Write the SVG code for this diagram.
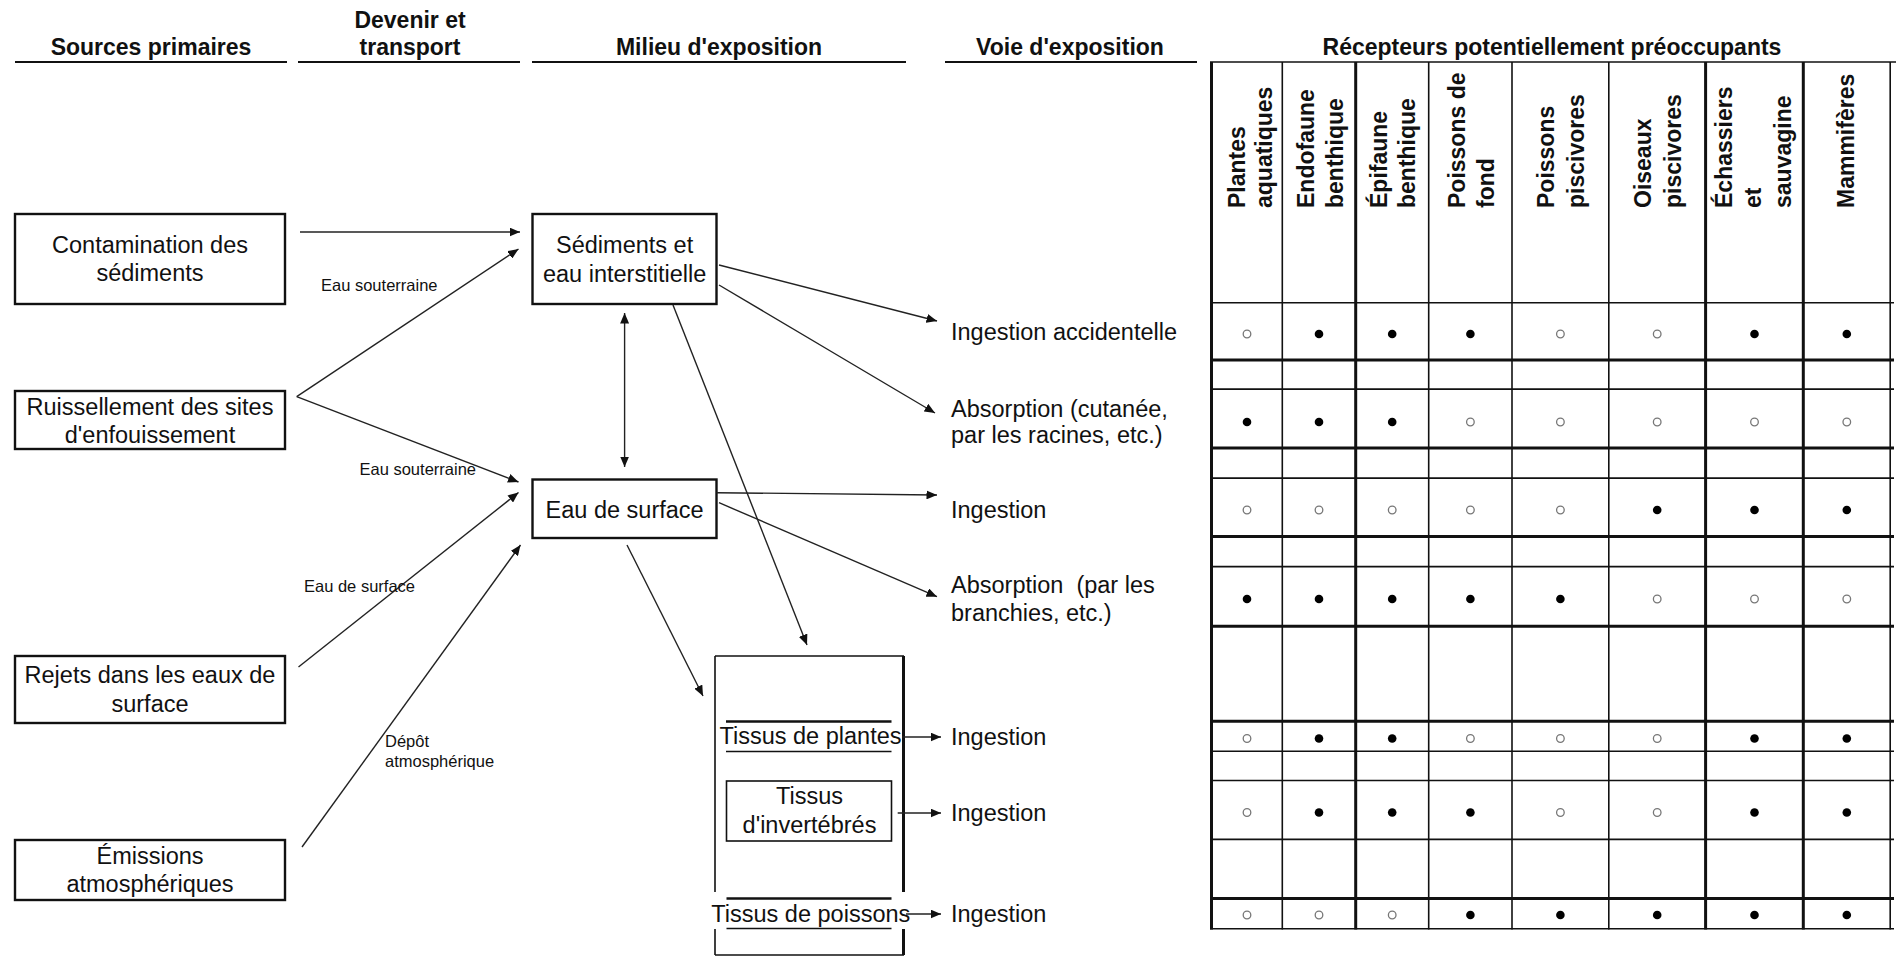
<svg xmlns="http://www.w3.org/2000/svg" width="1896" height="957" viewBox="0 0 1896 957">
<style>
text{font-family:"Liberation Sans",Arial,sans-serif;fill:#111}
.h{font-size:23px;font-weight:bold}
.b{font-size:23.5px}
.s{font-size:16.5px}
.ch{font-size:23px;font-weight:bold}
.box{fill:#fff;stroke:#111;stroke-width:2.4}
.ul{stroke:#111;stroke-width:2}
.con{stroke:#222;stroke-width:1.4;fill:none}
.arr{marker-end:url(#ah)}
.tl{stroke:#111;stroke-width:1.6}
.tk{stroke:#111;stroke-width:3}
.fd{fill:#000}
.hd{fill:none;stroke:#777;stroke-width:1.3}
</style>
<defs>
<marker id="ah" markerUnits="userSpaceOnUse" markerWidth="11" markerHeight="9" refX="10.5" refY="4.5" orient="auto-start-reverse">
<path d="M0,0 L10.5,4.5 L0,9 z" fill="#111"/>
</marker>
</defs>
<rect width="1896" height="957" fill="#fff"/>

<g id="headers">
<text class="h" x="151" y="55" text-anchor="middle">Sources primaires</text>
<text class="h" x="410" y="28" text-anchor="middle">Devenir et</text>
<text class="h" x="410" y="55" text-anchor="middle">transport</text>
<text class="h" x="719" y="55" text-anchor="middle">Milieu d'exposition</text>
<text class="h" x="1070" y="55" text-anchor="middle">Voie d'exposition</text>
<text class="h" x="1552" y="55" text-anchor="middle">Récepteurs potentiellement préoccupants</text>
<line class="ul" x1="15" y1="62" x2="287" y2="62"/>
<line class="ul" x1="298" y1="62" x2="520" y2="62"/>
<line class="ul" x1="532" y1="62" x2="906" y2="62"/>
<line class="ul" x1="945" y1="62" x2="1197" y2="62"/>
</g>

<g id="src-contamination">
<rect class="box" x="15" y="214" width="270" height="90"/>
<text class="b" x="150" y="253" text-anchor="middle">Contamination des</text>
<text class="b" x="150" y="281" text-anchor="middle">sédiments</text>
</g>
<g id="src-ruissellement">
<rect class="box" x="15" y="391" width="270" height="58"/>
<text class="b" x="150" y="415" text-anchor="middle">Ruissellement des sites</text>
<text class="b" x="150" y="443" text-anchor="middle">d'enfouissement</text>
</g>
<g id="src-rejets">
<rect class="box" x="15" y="656" width="270" height="67"/>
<text class="b" x="150" y="683" text-anchor="middle">Rejets dans les eaux de</text>
<text class="b" x="150" y="712" text-anchor="middle">surface</text>
</g>
<g id="src-emissions">
<rect class="box" x="15" y="840" width="270" height="60"/>
<text class="b" x="150" y="864" text-anchor="middle">Émissions</text>
<text class="b" x="150" y="892" text-anchor="middle">atmosphériques</text>
</g>

<g id="milieu-sediments">
<rect class="box" x="532.5" y="214" width="184" height="90"/>
<text class="b" x="624.6" y="253" text-anchor="middle">Sédiments et</text>
<text class="b" x="624.6" y="282" text-anchor="middle">eau interstitielle</text>
</g>
<g id="milieu-eau-surface">
<rect class="box" x="532.5" y="479.5" width="184" height="58.5"/>
<text class="b" x="624.6" y="518" text-anchor="middle">Eau de surface</text>
</g>

<g id="milieu-tissus">
<line stroke="#111" stroke-width="1.6" x1="715" y1="656" x2="904" y2="656"/>
<line stroke="#111" stroke-width="1.6" x1="715" y1="955" x2="904" y2="955"/>
<path d="M715,656 V892 M715,929 V955" stroke="#111" stroke-width="1.6" fill="none"/>
<path d="M903.5,656 V892 M903.5,929 V955" stroke="#111" stroke-width="3" fill="none"/>
<line stroke="#111" stroke-width="2.6" x1="726" y1="721.5" x2="891.5" y2="721.5"/>
<line stroke="#111" stroke-width="1.6" x1="726" y1="751.5" x2="891.5" y2="751.5"/>
<text class="b" x="810.5" y="744" text-anchor="middle">Tissus de plantes</text>
<rect x="726.5" y="781" width="165" height="60" fill="#fff" stroke="#111" stroke-width="1.6"/>
<text class="b" x="809.5" y="804" text-anchor="middle">Tissus</text>
<text class="b" x="809.5" y="833" text-anchor="middle">d'invertébrés</text>
<line stroke="#111" stroke-width="2.6" x1="726.5" y1="898.5" x2="891.5" y2="898.5"/>
<line stroke="#111" stroke-width="1.6" x1="726.5" y1="928.5" x2="891.5" y2="928.5"/>
<text class="b" x="810.8" y="921.7" text-anchor="middle">Tissus de poissons</text>
</g>

<g id="voies">
<text class="b" x="951" y="340">Ingestion accidentelle</text>
<text class="b" x="951" y="417">Absorption (cutanée,</text>
<text class="b" x="951" y="443">par les racines, etc.)</text>
<text class="b" x="951" y="518">Ingestion</text>
<text class="b" x="951" y="593">Absorption&#160; (par les</text>
<text class="b" x="951" y="621">branchies, etc.)</text>
<text class="b" x="951" y="745">Ingestion</text>
<text class="b" x="951" y="821">Ingestion</text>
<text class="b" x="951" y="922">Ingestion</text>
</g>

<g id="connectors">
<line class="con arr" x1="300" y1="232" x2="520" y2="232"/>
<line class="con arr" x1="296.7" y1="396.7" x2="518.5" y2="249"/>
<line class="con arr" x1="296.7" y1="396.7" x2="518.5" y2="482"/>
<line class="con arr" x1="298.5" y1="667" x2="518.5" y2="492.5"/>
<line class="con arr" x1="302" y1="847" x2="520.5" y2="545"/>
<line class="con" x1="624.6" y1="313" x2="624.6" y2="467" marker-start="url(#ah)" marker-end="url(#ah)"/>
<line class="con arr" x1="719" y1="265" x2="937" y2="321"/>
<line class="con arr" x1="719" y1="285" x2="935" y2="413"/>
<line class="con arr" x1="673" y1="305" x2="807" y2="645"/>
<line class="con arr" x1="716.5" y1="492.7" x2="937" y2="495"/>
<line class="con arr" x1="719" y1="502.7" x2="937" y2="596.7"/>
<line class="con arr" x1="627" y1="545" x2="703" y2="696"/>
<line class="con arr" x1="902" y1="737" x2="941" y2="737"/>
<line class="con arr" x1="897.7" y1="813" x2="941" y2="813"/>
<line class="con arr" x1="906" y1="914" x2="941" y2="914"/>
<text class="s" x="321" y="291">Eau souterraine</text>
<text class="s" x="359.5" y="475">Eau souterraine</text>
<text class="s" x="304" y="592">Eau de surface</text>
<text class="s" x="385" y="747">Dépôt</text>
<text class="s" x="385" y="767">atmosphérique</text>
</g>

<g id="table">
<line class="tl" x1="1210" y1="62" x2="1896" y2="62" stroke-width="2"/>
<line class="tl" x1="1210" y1="302.7" x2="1894" y2="302.7"/>
<line class="tk" x1="1210" y1="360" x2="1894" y2="360"/>
<line class="tl" x1="1210" y1="389.1" x2="1894" y2="389.1"/>
<line class="tk" x1="1210" y1="448" x2="1894" y2="448"/>
<line class="tl" x1="1210" y1="478.1" x2="1894" y2="478.1"/>
<line class="tk" x1="1210" y1="536.6" x2="1894" y2="536.6"/>
<line class="tl" x1="1210" y1="566.6" x2="1894" y2="566.6"/>
<line class="tk" x1="1210" y1="626.3" x2="1894" y2="626.3"/>
<line class="tk" x1="1210" y1="721.2" x2="1894" y2="721.2"/>
<line class="tl" x1="1210" y1="751.2" x2="1894" y2="751.2"/>
<line class="tl" x1="1210" y1="780.5" x2="1894" y2="780.5"/>
<line class="tl" x1="1210" y1="839.4" x2="1894" y2="839.4"/>
<line class="tk" x1="1210" y1="898.6" x2="1894" y2="898.6"/>
<line class="tl" x1="1210" y1="928.7" x2="1894" y2="928.7"/>
<line class="tk" x1="1211.5" y1="62" x2="1211.5" y2="929.5"/>
<line class="tl" x1="1282.3" y1="62" x2="1282.3" y2="929.5"/>
<line class="tk" x1="1355.7" y1="62" x2="1355.7" y2="929.5"/>
<line class="tl" x1="1428.7" y1="62" x2="1428.7" y2="929.5"/>
<line class="tl" x1="1512" y1="62" x2="1512" y2="929.5"/>
<line class="tl" x1="1608.8" y1="62" x2="1608.8" y2="929.5"/>
<line class="tk" x1="1705.6" y1="62" x2="1705.6" y2="929.5"/>
<line class="tk" x1="1803.3" y1="62" x2="1803.3" y2="929.5"/>
<line class="tl" x1="1890.2" y1="62" x2="1890.2" y2="929.5"/>

<text class="ch" transform="translate(1245,208) rotate(-90)">Plantes</text>
<text class="ch" transform="translate(1272,208) rotate(-90)">aquatiques</text>
<text class="ch" transform="translate(1314,208) rotate(-90)">Endofaune</text>
<text class="ch" transform="translate(1343,208) rotate(-90)">benthique</text>
<text class="ch" transform="translate(1387,208) rotate(-90)">Épifaune</text>
<text class="ch" transform="translate(1415,208) rotate(-90)">benthique</text>
<text class="ch" transform="translate(1465,208) rotate(-90)">Poissons de</text>
<text class="ch" transform="translate(1494,208) rotate(-90)">fond</text>
<text class="ch" transform="translate(1554,208) rotate(-90)">Poissons</text>
<text class="ch" transform="translate(1584,208) rotate(-90)">piscivores</text>
<text class="ch" transform="translate(1651,208) rotate(-90)">Oiseaux</text>
<text class="ch" transform="translate(1681,208) rotate(-90)">piscivores</text>
<text class="ch" transform="translate(1732,208) rotate(-90)">Échassiers</text>
<text class="ch" transform="translate(1761,208) rotate(-90)">et</text>
<text class="ch" transform="translate(1791,208) rotate(-90)">sauvagine</text>
<text class="ch" transform="translate(1854,208) rotate(-90)">Mammifères</text>

<!-- row 1 -->
<circle class="hd" cx="1247" cy="334" r="3.8"/><circle class="fd" cx="1319" cy="334" r="4.3"/><circle class="fd" cx="1392.2" cy="334" r="4.3"/><circle class="fd" cx="1470.4" cy="334" r="4.3"/><circle class="hd" cx="1560.4" cy="334" r="3.8"/><circle class="hd" cx="1657.2" cy="334" r="3.8"/><circle class="fd" cx="1754.5" cy="334" r="4.3"/><circle class="fd" cx="1846.8" cy="334" r="4.3"/>
<!-- row 2 -->
<circle class="fd" cx="1247" cy="422" r="4.3"/><circle class="fd" cx="1319" cy="422" r="4.3"/><circle class="fd" cx="1392.2" cy="422" r="4.3"/><circle class="hd" cx="1470.4" cy="422" r="3.8"/><circle class="hd" cx="1560.4" cy="422" r="3.8"/><circle class="hd" cx="1657.2" cy="422" r="3.8"/><circle class="hd" cx="1754.5" cy="422" r="3.8"/><circle class="hd" cx="1846.8" cy="422" r="3.8"/>
<!-- row 3 -->
<circle class="hd" cx="1247" cy="510" r="3.8"/><circle class="hd" cx="1319" cy="510" r="3.8"/><circle class="hd" cx="1392.2" cy="510" r="3.8"/><circle class="hd" cx="1470.4" cy="510" r="3.8"/><circle class="hd" cx="1560.4" cy="510" r="3.8"/><circle class="fd" cx="1657.2" cy="510" r="4.3"/><circle class="fd" cx="1754.5" cy="510" r="4.3"/><circle class="fd" cx="1846.8" cy="510" r="4.3"/>
<!-- row 4 -->
<circle class="fd" cx="1247" cy="599" r="4.3"/><circle class="fd" cx="1319" cy="599" r="4.3"/><circle class="fd" cx="1392.2" cy="599" r="4.3"/><circle class="fd" cx="1470.4" cy="599" r="4.3"/><circle class="fd" cx="1560.4" cy="599" r="4.3"/><circle class="hd" cx="1657.2" cy="599" r="3.8"/><circle class="hd" cx="1754.5" cy="599" r="3.8"/><circle class="hd" cx="1846.8" cy="599" r="3.8"/>
<!-- row 5 -->
<circle class="hd" cx="1247" cy="738.5" r="3.8"/><circle class="fd" cx="1319" cy="738.5" r="4.3"/><circle class="fd" cx="1392.2" cy="738.5" r="4.3"/><circle class="hd" cx="1470.4" cy="738.5" r="3.8"/><circle class="hd" cx="1560.4" cy="738.5" r="3.8"/><circle class="hd" cx="1657.2" cy="738.5" r="3.8"/><circle class="fd" cx="1754.5" cy="738.5" r="4.3"/><circle class="fd" cx="1846.8" cy="738.5" r="4.3"/>
<!-- row 6 -->
<circle class="hd" cx="1247" cy="812.5" r="3.8"/><circle class="fd" cx="1319" cy="812.5" r="4.3"/><circle class="fd" cx="1392.2" cy="812.5" r="4.3"/><circle class="fd" cx="1470.4" cy="812.5" r="4.3"/><circle class="hd" cx="1560.4" cy="812.5" r="3.8"/><circle class="hd" cx="1657.2" cy="812.5" r="3.8"/><circle class="fd" cx="1754.5" cy="812.5" r="4.3"/><circle class="fd" cx="1846.8" cy="812.5" r="4.3"/>
<!-- row 7 -->
<circle class="hd" cx="1247" cy="915" r="3.8"/><circle class="hd" cx="1319" cy="915" r="3.8"/><circle class="hd" cx="1392.2" cy="915" r="3.8"/><circle class="fd" cx="1470.4" cy="915" r="4.3"/><circle class="fd" cx="1560.4" cy="915" r="4.3"/><circle class="fd" cx="1657.2" cy="915" r="4.3"/><circle class="fd" cx="1754.5" cy="915" r="4.3"/><circle class="fd" cx="1846.8" cy="915" r="4.3"/>
</g>
</svg>
